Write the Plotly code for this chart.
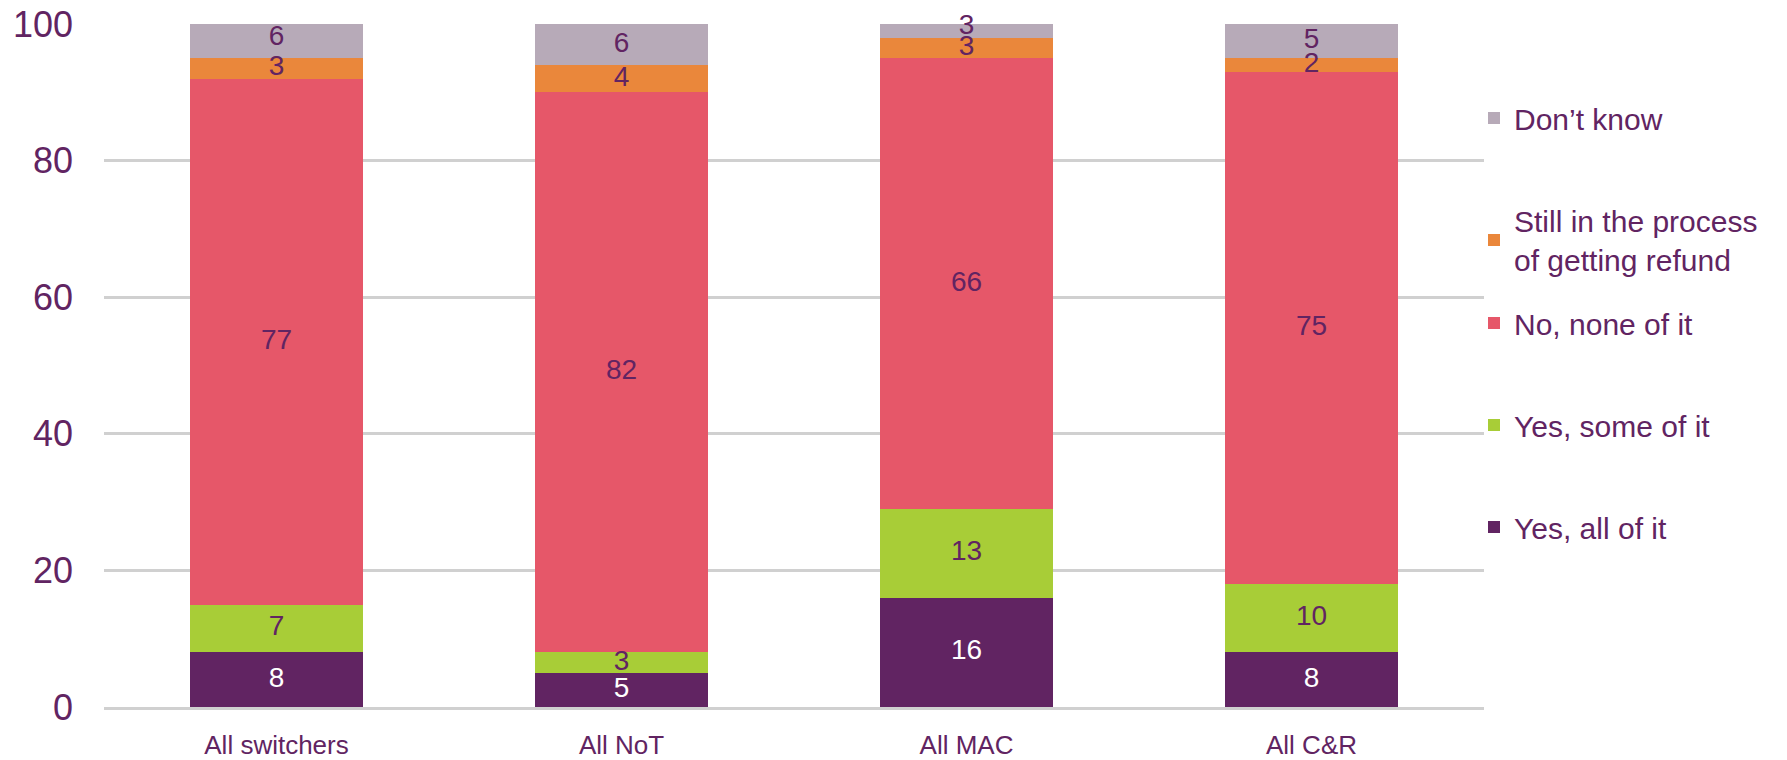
import plotly.graph_objects as go

categories = ["All switchers", "All NoT", "All MAC", "All C&R"]
series_names = ["Yes, all of it", "Yes, some of it", "No, none of it",
                "Still in the process<br>of getting refund", "Don’t know"]
yes_all = [8, 5, 16, 8]
yes_some = [7, 3, 13, 10]
no_none = [77, 82, 66, 75]
still_process = [3, 4, 3, 2]
dont_know = [6, 6, 3, 5]
y_ticks = [0, 20, 40, 60, 80, 100]

series_values = [yes_all, yes_some, no_none, still_process, dont_know]
colors = ["#612462", "#A8CD37", "#E65769", "#EA873B", "#B7AAB8"]
text_colors = ["#FFFFFF", "#612462", "#612462", "#612462", "#612462"]

PURPLE = "#612462"
FONT = "Liberation Sans, Arial, sans-serif"

# plot area in pixels
W, H = 1787, 760
L, R, T, B = 104, 303, 24, 53
ph = H - T - B
legend_centers_px = [527, 425, 323, 240, 118]
legend_keys = ["legend5", "legend4", "legend3", "legend2", "legend"]

fig = go.Figure()
base = [0] * len(categories)
for name, vals, col, tcol, lk in zip(series_names, series_values, colors, text_colors, legend_keys):
    fig.add_trace(go.Bar(
        x=categories, y=vals, name=name,
        marker=dict(color=col, line=dict(width=0)),
        legend=lk,
        hoverinfo="skip",
    ))
    mids = [b + v / 2 for b, v in zip(base, vals)]
    fig.add_trace(go.Scatter(
        x=categories, y=mids, mode="text",
        text=[str(v) for v in vals],
        textposition="middle center",
        textfont=dict(color=tcol, size=28, family=FONT),
        showlegend=False, cliponaxis=False, hoverinfo="skip",
    ))
    base = [b + v for b, v in zip(base, vals)]

layout_legends = {}
for lk, cy in zip(legend_keys, legend_centers_px):
    layout_legends[lk] = dict(
        x=(1474 - L) / (W - L - R), xanchor="left",
        y=(H - B - cy) / ph, yanchor="middle",
        font=dict(size=30, color=PURPLE, family=FONT),
        bgcolor="rgba(0,0,0,0)", borderwidth=0,
    )

fig.update_layout(
    width=W, height=H,
    margin=dict(l=L, r=R, t=T, b=B, autoexpand=False),
    barmode="stack", bargap=0.5,
    plot_bgcolor="white", paper_bgcolor="white",
    font=dict(family=FONT, color=PURPLE),
    showlegend=True,
    xaxis=dict(
        showgrid=False, showline=True, linecolor="#D0D0D0", linewidth=3,
        tickfont=dict(size=26, color=PURPLE, family=FONT),
        ticks="", ticklabelstandoff=13, automargin=False,
    ),
    yaxis=dict(
        range=[0, 100], tickvals=y_ticks,
        showgrid=True, gridcolor="#D0D0D0", gridwidth=3,
        zeroline=False, showline=False,
        tickfont=dict(size=36, color=PURPLE, family=FONT),
        ticks="", ticklabelstandoff=30, automargin=False,
    ),
    **layout_legends,
)

fig.write_html("out.html")
